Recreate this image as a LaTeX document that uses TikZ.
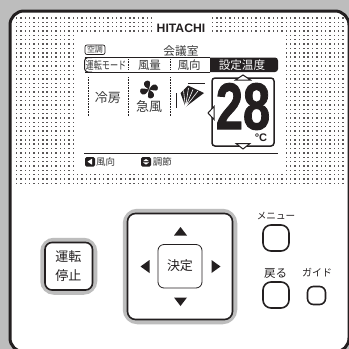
\documentclass[tikz,border=0pt]{standalone}
\usepackage{fontspec}
\usepackage{graphicx}
\setmainfont{Noto Sans CJK JP}
\newfontfamily\latinb{Liberation Sans Bold}
\newfontfamily\heavy{Liberation Sans Bold}[FakeBold=1.5]
\definecolor{panelgray}{HTML}{BDBDBD}
\definecolor{ink}{HTML}{231F20}
\definecolor{lcdtext}{HTML}{3A3A3A}
\newcommand{\fs}[1]{\fontsize{#1}{#1}\selectfont}
\tikzset{
  x=1pt,y=-1pt,
  txt/.style={inner sep=0pt,outer sep=0pt,text=ink},
  lcd/.style={inner sep=0pt,outer sep=0pt,text=lcdtext},
  inv/.style={inner sep=0pt,outer sep=0pt,text=white},
  key/.style={draw=ink,line width=1.6pt,fill=white,rounded corners=#1},
  halo/.style={draw=panelgray,line width=9.5pt,rounded corners=#1},
  tri/.style={fill=ink,draw=none},
  otri/.style={fill=white,draw=ink,line width=1pt,line join=miter},
  sep/.style={draw=ink,line width=.8pt,dash pattern=on .8pt off .8pt},
  blade/.style={fill=ink,draw=none}
}
\begin{document}
\begin{tikzpicture}
\clip (0,0) rectangle (349,349);
\useasboundingbox (0,0) rectangle (349,349);
\fill[panelgray] (0,0) rectangle (349,349);
% panel
\draw[draw=ink,line width=3pt,fill=white,rounded corners=14pt] (10,11) rectangle (349,352);
% dot screen
\foreach \r in {0,...,38}{
  \pgfmathsetmacro{\yy}{18+4.35*\r}
  \foreach \c in {0,...,75}{
    \pgfmathsetmacro{\xx}{16.7+4.35*\c}
    \pgfmathtruncatemacro{\show}{
      ((\xx<74 || \xx>285) || (\r>35) || (\r<4 && (\xx<153 || \xx>210))) ? 1 : 0}
    \ifnum\show=1
      \fill[ink!75] (\xx-.7,\yy-.7) rectangle (\xx+.7,\yy+.7);
    \fi
  }
}
\node[txt,font=\latinb\fs{12.2}] (brand) at (181,28) {HITACHI};
% LCD top
\draw[ink,line width=.7pt,rounded corners=2pt] (85,45) rectangle (105,54.5);
\node[lcd,font=\fs{8}] (ac) at (95,49.7) {空調};
\node[lcd,font=\fs{11.7}] (room) at (181,51) {会議室};
% tab bar
\fill[ink,rounded corners=3pt] (205,57.5) rectangle (278,72);
\fill[white] (205,56) rectangle (210,73);
\draw[ink,line width=1pt,rounded corners=3.5pt] (84.5,57.5) -- (210,57.5) (210,72) -- (84.5,72);
\draw[ink,line width=1pt,rounded corners=3.5pt] (92,57.5) -- (84.5,57.5) -- (84.5,72) -- (92,72);
\node[lcd,font=\fs{11}] (mode) at (106,65) {\scalebox{.74}[1]{運転モード}};
\node[lcd,font=\fs{11.5}] (vol) at (149.5,65) {風量};
\node[lcd,font=\fs{11.5}] (dir) at (189,65) {風向};
\node[inv,font=\fs{11.6}] (set) at (242,65) {設定温度};
\draw[sep] (128.5,59) -- (128.5,70);
\draw[sep] (170,59) -- (170,70);
\draw[sep] (88,77) -- (88,116);
\draw[sep] (128.5,77) -- (128.5,116);
\draw[sep] (170,77) -- (170,116);
\node[lcd,font=\fs{13}] (cool) at (108,97.5) {冷房};
\node[lcd,font=\fs{13}] (wind) at (149,107) {急風};
% fan
\begin{scope}[shift={(149,89.5)},rotate=18]
  \foreach \a in {0,90,180,270}{
    \fill[blade,rotate=\a] (0,0) .. controls (-2,-3) and (-4.5,-4.5) .. (-2.5,-8) .. controls (-.5,-10) and (3.5,-9) .. (3.2,-6.5) .. controls (3,-4) and (1,-3) .. (0,0) -- cycle;
  }
\end{scope}
% louver
\draw[ink,line width=.8pt] (188,83) -- (205,83);
\draw[ink,line width=.9pt] (176.5,93) -- (176.5,108);
\fill[ink] (185.5,107) -- (180.5,93) -- (188,85.5) -- (204,93) -- cycle;
\draw[white,line width=.6pt] (185.5,107) -- (183.5,90.5) (185.5,107) -- (188.5,88) (185.5,107) -- (193,89.5) (185.5,107) -- (198,91);
% temp box
\draw[ink,line width=1.5pt,rounded corners=3pt] (212,78) rectangle (274,146);
\draw[otri] (235.5,80) -- (243,75) -- (250.5,80) -- cycle;
\draw[otri] (236,143.5) -- (243,149) -- (250,143.5) -- cycle;
\draw[otri] (214,106.5) -- (208,113) -- (214,119.5) -- cycle;
\node[txt,font=\heavy\fs{66}] (temp) at (243,106.5) {\scalebox{.74}[1]{28}};
\node[txt,font=\latinb\fs{11}] (deg) at (261,138) {°C};
% footer
\draw[ink,line width=1.2pt] (84,153.5) -- (278,153.5);
\fill[ink,rounded corners=1.5pt] (85,157) rectangle (95,166.5);
\fill[white] (87.5,161.7) -- (92,158.7) -- (92,164.7) -- cycle;
\node[lcd,font=\fs{9.5}] (f1) at (105.5,162) {風向};
\fill[ink,rounded corners=1.5pt] (141,157) rectangle (151,166.5);
\fill[white] (143,161.2) -- (146,159) -- (149,161.2) -- cycle;
\fill[white] (143,162.4) -- (146,164.6) -- (149,162.4) -- cycle;
\node[lcd,font=\fs{9.5}] (f2) at (162.5,162) {調節};
% power button
\draw[halo=9pt] (45,242.5) rectangle (92.5,290);
\draw[key=7pt] (45,242.5) rectangle (92.5,290);
\node[txt,font=\fs{13}] (l1) at (68.5,257) {運転};
\node[txt,font=\fs{13}] (l2) at (68.5,276) {停止};
% d-pad
\draw[halo=10pt] (127.5,213.5) rectangle (232.5,319.5);
\draw[key=8pt] (127.5,213.5) rectangle (232.5,319.5);
\draw[ink,line width=.8pt,rounded corners=6pt] (158,244.5) rectangle (202,288);
\node[txt,font=\fs{13}] (ok) at (180,266) {決定};
\fill[tri] (174,235.5) -- (180.5,227) -- (187,235.5) -- cycle;
\fill[tri] (174,297.5) -- (180.5,306) -- (187,297.5) -- cycle;
\fill[tri] (149.5,260) -- (140.5,266.5) -- (149.5,273) -- cycle;
\fill[tri] (211.5,260) -- (220.5,266.5) -- (211.5,273) -- cycle;
% side buttons
\node[txt,font=\fs{9.6}] (menu) at (276,216) {メニュー};
\draw[key=8pt] (263,225) rectangle (289,251);
\node[txt,font=\fs{11.5}] (back) at (275.7,273) {戻る};
\draw[key=8pt] (263,282) rectangle (289,308);
\node[txt,font=\fs{10}] (guide) at (317,273) {ガイド};
\draw[key=6pt] (307.5,286.5) rectangle (325.5,304.5);
\end{tikzpicture}
\end{document}
